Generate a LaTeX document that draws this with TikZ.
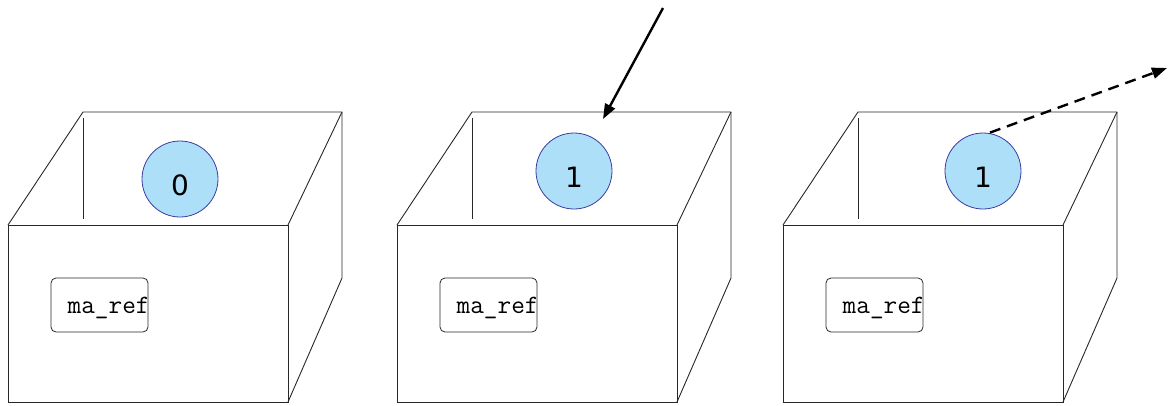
\documentclass[tikz,border=0pt]{standalone}
\usepackage{fontspec}
\newfontfamily\ballfont{DejaVu Sans}
\usetikzlibrary{arrows.meta}
\definecolor{ballfill}{RGB}{173,223,248}
\definecolor{ballline}{RGB}{60,60,160}
\definecolor{edgecol}{RGB}{40,40,40}
\tikzset{
  edge/.style={draw=edgecol, line width=0.9pt, line join=miter},
  ball/.style={circle, draw=ballline, fill=ballfill, minimum size=76pt, inner sep=0pt, line width=0.8pt, text height=32pt, text depth=0pt, font=\ballfont\fontsize{28}{28}\selectfont},
  refbox/.style={draw=edgecol, rounded corners=5pt, minimum width=97pt, minimum height=54pt, inner sep=0pt, line width=0.8pt},
  reftext/.style={anchor=base west, inner sep=0pt, font=\ttfamily\fontsize{26.5}{26.5}\selectfont},
  pointer/.style={draw=black, line width=2.4pt, -{Triangle[length=15pt,width=11pt]}},
}
\begin{document}
\begin{tikzpicture}[x=1pt,y=-1pt]
\useasboundingbox (0,0) rectangle (1168,405);
\foreach \i/\dx/\bx/\by/\v in {1/0/180/179/0, 2/389/574/171/1, 3/775/983/171/1}{
  \begin{scope}[xshift=\dx pt]
    \coordinate (f\i sw) at (8,402);
    \coordinate (f\i nw) at (8,225);
    \coordinate (f\i ne) at (288,225);
    \coordinate (f\i se) at (288,402);
    \coordinate (b\i nw) at (83,112);
    \coordinate (b\i ne) at (342,112);
    \coordinate (b\i se) at (342,278);
    \draw[edge] (f\i sw) rectangle (f\i ne);
    \draw[edge] (f\i nw) -- (b\i nw) -- (b\i ne) -- (b\i se) -- (f\i se);
    \draw[edge] (b\i ne) -- (f\i ne);
    \draw[edge] (83,118) -- (83,219);
    \node[refbox] (r\i) at (99.5,305) {};
    \node[reftext] (t\i) at (67.5,313) {ma\_ref};
  \end{scope}
  \node[ball] (ball\i) at (\bx,\by) {\v};
}
\coordinate (in0) at (663,8);
\coordinate (in1) at (603,119);
\draw[pointer] (in0) -- (in1);
\coordinate (out1) at (1167,68);
\draw[pointer, dash pattern=on 11pt off 7pt] (ball3.north) ++(7pt,0) coordinate (out0) (out0) -- (out1);
\end{tikzpicture}
\end{document}
